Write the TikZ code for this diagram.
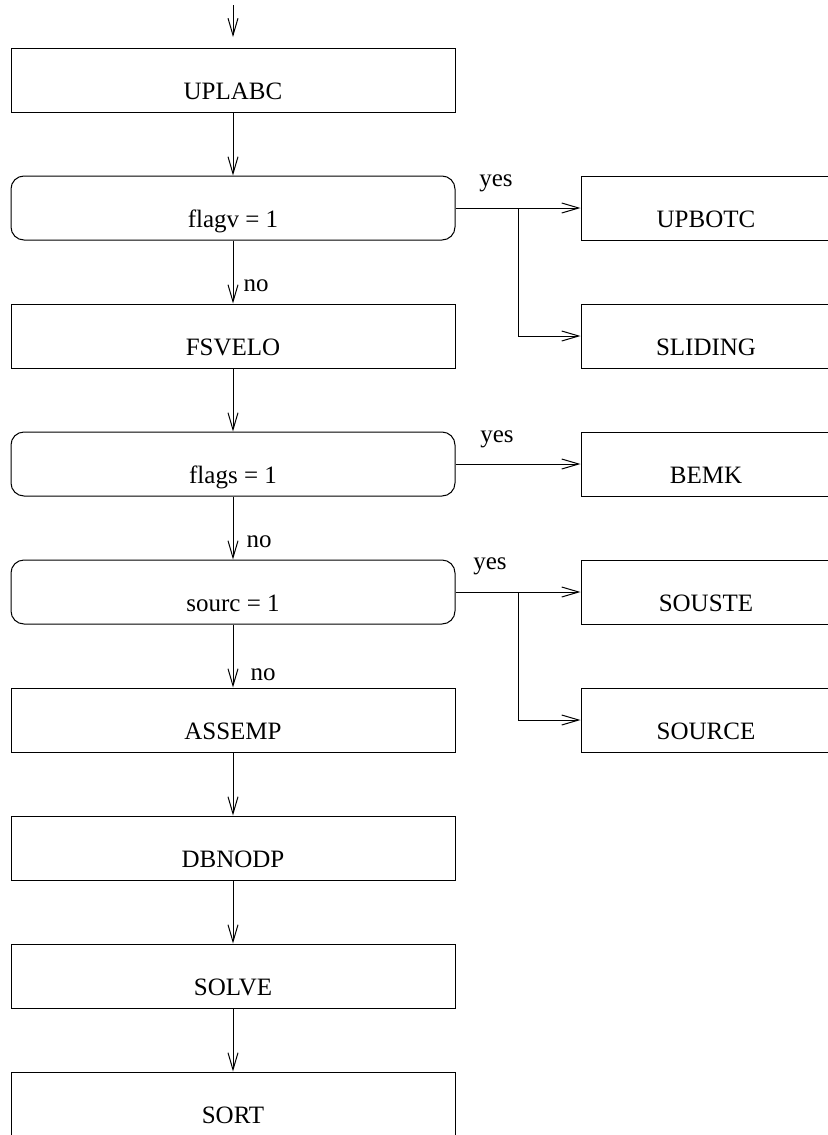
\documentclass[tikz,border=0pt]{standalone}
\usepackage{fontspec}
\setmainfont{Liberation Serif}
\usetikzlibrary{arrows.meta}
\begin{document}
\begin{tikzpicture}[x=0.5pt,y=-0.5pt,
  line width=0.5pt,
  font=\fontsize{12.5}{15}\selectfont,
  >={Straight Barb[length=8.5pt,width=5pt]},
  proc/.style={draw, rectangle, minimum width=222pt, minimum height=32pt,
    inner sep=0pt, text height=19pt, text depth=0pt},
  dec/.style={proc, rounded corners=6.5pt},
  side/.style={proc, minimum width=125pt},
  lbl/.style={inner sep=0pt}]
\useasboundingbox (0,0) rectangle (827,1135);

% main column
\node[proc] (uplabc) at (233,80)   {UPLABC};
\node[dec]  (flagv)  at (233,208)  {flagv = 1};
\node[proc] (fsvelo) at (233,336)  {FSVELO};
\node[dec]  (flags)  at (233,464)  {flags = 1};
\node[dec]  (sourc)  at (233,592)  {sourc = 1};
\node[proc] (assemp) at (233,720)  {ASSEMP};
\node[proc] (dbnodp) at (233,848)  {DBNODP};
\node[proc] (solve)  at (233,976)  {SOLVE};
\node[proc] (sort)   at (233,1104) {SORT};

% side column
\node[side] (upbotc)  at (706,208) {UPBOTC};
\node[side] (sliding) at (706,336) {SLIDING};
\node[side] (bemk)    at (706,464) {BEMK};
\node[side] (souste)  at (706,592) {SOUSTE};
\node[side] (source)  at (706,720) {SOURCE};

% entry arrow
\coordinate (start) at (233,5);
\coordinate (entry) at (233,37);
\draw[->] (start) -- (entry);

% main flow
\draw[->] (uplabc) -- (flagv);
\draw[->] (flagv) -- node[lbl, pos=0.72, anchor=west, xshift=5pt] {no} (fsvelo);
\draw[->] (fsvelo) -- (flags);
\draw[->] (flags) -- node[lbl, pos=0.71, anchor=west, xshift=6.5pt] {no} (sourc);
\draw[->] (sourc) -- node[lbl, pos=0.8, anchor=west, xshift=8.5pt] {no} (assemp);
\draw[->] (assemp) -- (dbnodp);
\draw[->] (dbnodp) -- (solve);
\draw[->] (solve) -- (sort);

% yes branches
\draw[->] (flagv) -- (upbotc);
\coordinate (b1) at (518,208);
\draw[->] (b1) |- (sliding);
\node[lbl] (yes1) at (496,183) {yes};

\draw[->] (flags) -- (bemk);
\node[lbl] (yes2) at (497,439) {yes};

\draw[->] (sourc) -- (souste);
\coordinate (b2) at (518,592);
\draw[->] (b2) |- (source);
\node[lbl] (yes3) at (490,566) {yes};
\end{tikzpicture}
\end{document}
